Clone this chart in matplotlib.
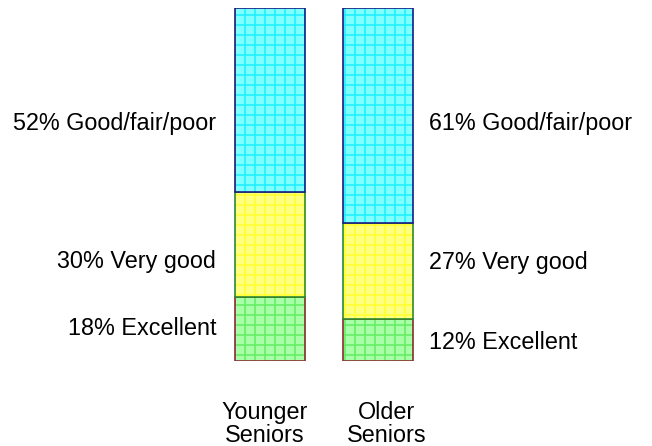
import matplotlib
matplotlib.use("Agg")
from matplotlib import pyplot as plt
import numpy as np

# data
groups = ["Younger\nSeniors", "Older\nSeniors"]
categories = ["Excellent", "Very good", "Good/fair/poor"]
younger = [18, 30, 52]
older = [12, 27, 61]
# label heights (percent units)
label_y_younger = [9.3, 28.3, 67.4]
label_y_older = [5.1, 27.8, 67.4]

fills = ["#a8ffa8", "#ffff80", "#80ffff"]
hatch_cols = ["#66ee66", "#ffff33", "#22f0ff"]
borders = ["#8b2e2e", "#2e8b2e", "#1a1a80"]

plt.rcParams['font.family'] = ['Liberation Sans', 'DejaVu Sans']
plt.rcParams['hatch.linewidth'] = 1.0

W, H, DPI = 652, 446, 120
fig = plt.figure(figsize=(W / DPI, H / DPI), dpi=DPI)
# axes placed in pixel terms: x -0.5..1.5 over 216 px, y 0..100 over 353 px
ax = fig.add_axes([215.7 / W, 85 / H, 216 / W, 353 / H])
ax.set_xlim(-0.5, 1.5)
ax.set_ylim(0, 100)
ax.axis("off")

x = np.arange(len(groups))
width = 0.648
vals = np.array([younger, older])  # shape groups x categories
bottoms = np.zeros(len(groups))
for i in range(len(categories)):
    ax.bar(x, vals[:, i], width, bottom=bottoms, color=fills[i],
           edgecolor=hatch_cols[i], linewidth=0, hatch="++")
    ax.bar(x, vals[:, i], width, bottom=bottoms, facecolor="none",
           edgecolor=borders[i], linewidth=1.0)
    bottoms += vals[:, i]

fs = 14
for i, c in enumerate(categories):
    ax.text(x[0] - width / 2 - 0.173, label_y_younger[i], f"{younger[i]}% {c}",
            ha="right", va="center", fontsize=fs, clip_on=False)
    ax.text(x[1] + width / 2 + 0.155, label_y_older[i], f"{older[i]}% {c}",
            ha="left", va="center", fontsize=fs, clip_on=False)

for xi, dx, g in zip(x, [-0.044, 0.083], groups):
    ax.text(xi + dx, -11.2, g, ha="center", va="top", fontsize=fs,
            linespacing=1.05, clip_on=False)

fig.savefig("out.png", dpi=DPI)
